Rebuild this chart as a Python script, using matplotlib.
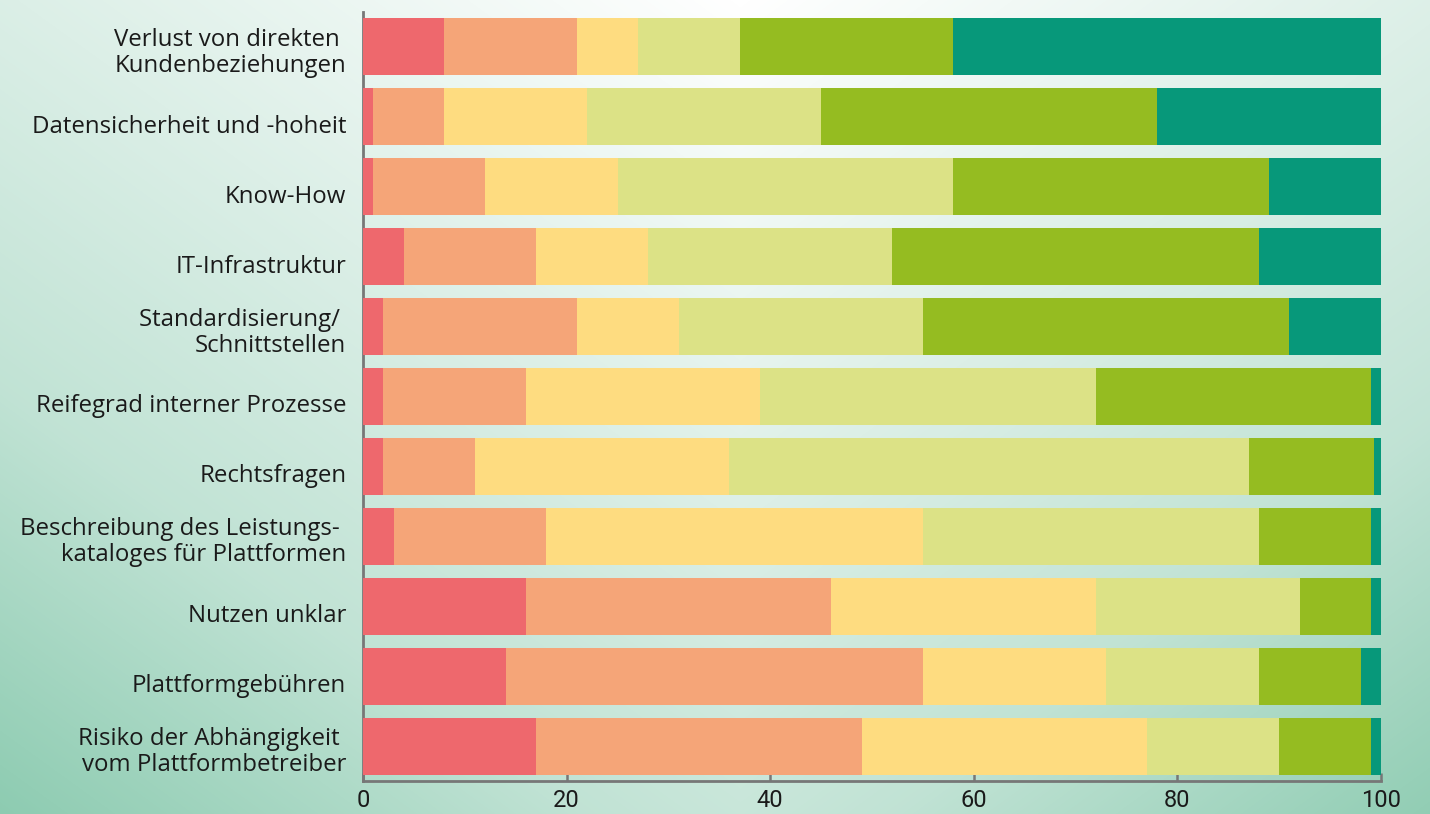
import numpy as np
import matplotlib
matplotlib.use("Agg")
import matplotlib.pyplot as plt
from matplotlib.colors import LinearSegmentedColormap
import matplotlib.transforms as mtransforms
from matplotlib import font_manager

categories = [
    "Verlust von direkten \nKundenbeziehungen",
    "Datensicherheit und -hoheit",
    "Know-How",
    "IT-Infrastruktur",
    "Standardisierung/ \nSchnittstellen",
    "Reifegrad interner Prozesse",
    "Rechtsfragen",
    "Beschreibung des Leistungs- \nkataloges für Plattformen",
    "Nutzen unklar",
    "Plattformgebühren",
    "Risiko der Abhängigkeit \nvom Plattformbetreiber",
]

seg1 = [8, 1, 1, 4, 2, 2, 2, 3, 16, 14, 17]
seg2 = [13, 7, 11, 13, 19, 14, 9, 15, 30, 41, 32]
seg3 = [6, 14, 13, 11, 10, 23, 25, 37, 26, 18, 28]
seg4 = [10, 23, 33, 24, 24, 33, 51, 33, 20, 15, 13]
seg5 = [21, 33, 31, 36, 36, 27, 12.3, 11, 7, 10, 9]
seg6 = [42, 22, 11, 12, 9, 1, 0.8, 1, 1, 2, 1]

series = [seg1, seg2, seg3, seg4, seg5, seg6]
colors = ["#EE686D", "#F5A578", "#FEDC80", "#DCE286", "#95BC21", "#07987A"]

xticks = [0, 20, 40, 60, 80, 100]

available = {f.name for f in font_manager.fontManager.ttflist}
tick_family = ["Liberation Sans Narrow", "DejaVu Sans"] if "Liberation Sans Narrow" in available \
    else ["Roboto", "DejaVu Sans"]

W, H = 1430, 814
fig = plt.figure(figsize=(W / 100, H / 100), dpi=100)

# background gradient
bg = fig.add_axes([0, 0, 1, 1], zorder=-10)
yy, xx = np.mgrid[0:H, 0:W].astype(float)
L = 0.30 * np.abs(xx - 740) / 720 + 0.46 * yy / 800
t = L + 0.8 * np.clip(L - 0.53, 0, None)
t = np.clip(t, 0, 1)
cmap = LinearSegmentedColormap.from_list("bg", ["#FFFFFF", "#8ACAAF"])
bg.imshow(t, cmap=cmap, vmin=0, vmax=1, aspect="auto", extent=[0, 1, 0, 1], origin="upper")
bg.axis("off")

ax = fig.add_axes([363 / W, 1 - 781 / H, (1381 - 363) / W, (781 - 12) / H])
ax.patch.set_alpha(0)

y = np.arange(len(categories))
left = np.zeros(len(categories))
for vals, c in zip(series, colors):
    vals = np.array(vals, dtype=float)
    ax.barh(y, vals, left=left, height=0.815, color=c, edgecolor="none", zorder=3)
    left += vals

ax.set_ylim(len(categories) - 0.5, -0.5)
ax.set_xlim(0, 100)
ax.set_yticks(y)
ax.set_yticklabels(categories, fontsize=17.3, family="Open Sans", color="#1a1a1a",
                   linespacing=1.12)
ax.set_xticks(xticks)
ax.set_xticklabels([str(v) for v in xticks], fontsize=17, family=tick_family, color="#1a1a1a")
ax.tick_params(axis="y", length=0, pad=12)
ax.tick_params(axis="x", direction="in", length=6, width=1.8, color="#777777", pad=6)

for lab in ax.get_yticklabels():
    if "\n" not in lab.get_text():
        off = mtransforms.ScaledTranslation(0, -7 / 100, fig.dpi_scale_trans)
    else:
        off = mtransforms.ScaledTranslation(0, -2 / 100, fig.dpi_scale_trans)
    lab.set_transform(lab.get_transform() + off)

for s in ["top", "right"]:
    ax.spines[s].set_visible(False)
for s in ["left", "bottom"]:
    ax.spines[s].set_color("#777777")
    ax.spines[s].set_linewidth(2)
ax.spines["left"].set_zorder(1)

fig.savefig("out.png", dpi=100)
